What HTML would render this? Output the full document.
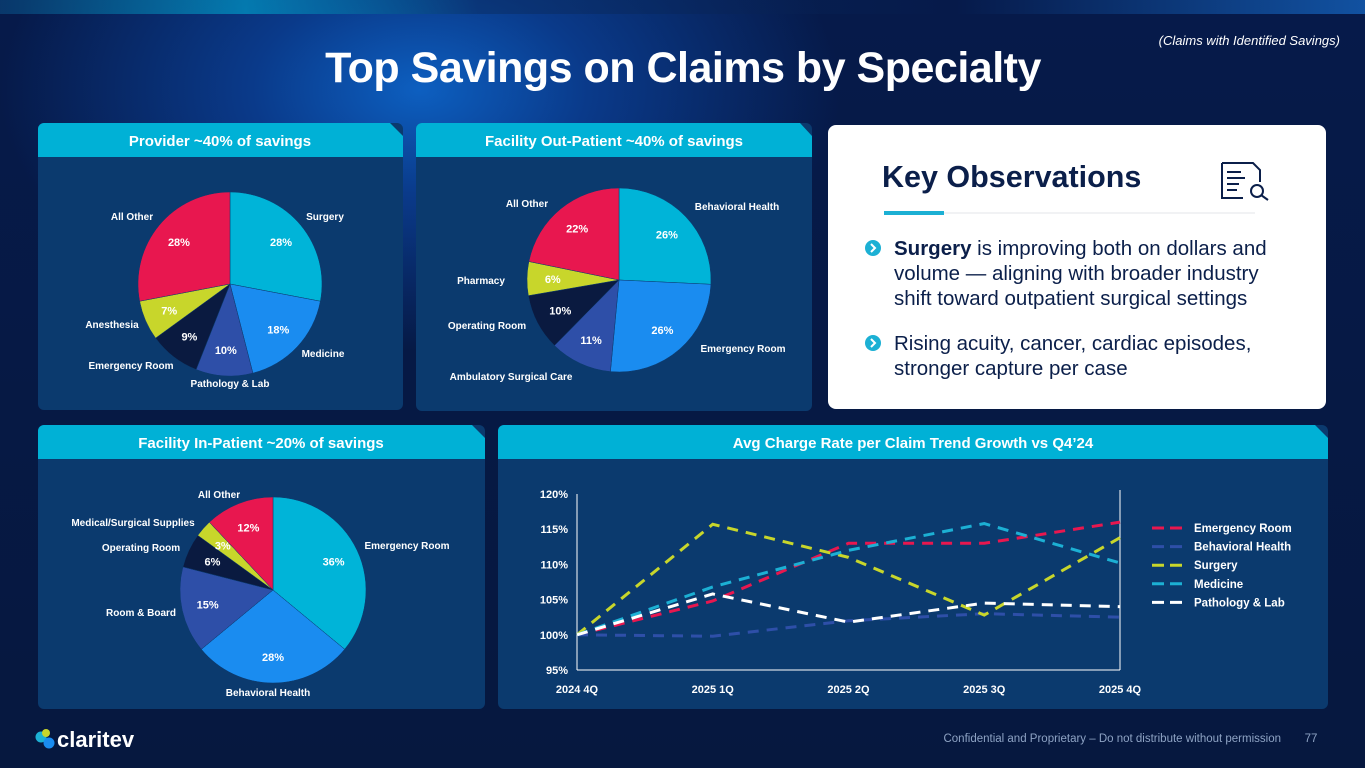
<!DOCTYPE html>
<html><head><meta charset="utf-8">
<style>
html,body{margin:0;padding:0}
body{width:1365px;height:768px;overflow:hidden;position:relative;font-family:"Liberation Sans",sans-serif;
background:radial-gradient(ellipse 420px 260px at 420px 90px,#0d5fc0 0%,#0a3a8a 40%,rgba(6,26,74,0) 100%),linear-gradient(180deg,#061a4a 0%,#06183f 100%);}
svg{position:absolute;left:0;top:0}
</style></head>
<body>
<svg id="s" width="1365" height="768" xmlns="http://www.w3.org/2000/svg">
<defs>
<linearGradient id="topg" x1="0" x2="1"><stop offset="0" stop-color="#0b4f86"/><stop offset="0.18" stop-color="#00b3d8"/><stop offset="0.35" stop-color="#0a2f66"/><stop offset="0.7" stop-color="#061a4a"/><stop offset="1" stop-color="#1b7fe8"/></linearGradient>
</defs>
<rect x="0" y="0" width="1365" height="14" fill="url(#topg)" opacity="0.55"/>
<text x="1340" y="45" text-anchor="end" font-size="13" font-style="italic" fill="#ffffff">(Claims with Identified Savings)</text>
<text x="683" y="82" text-anchor="middle" font-size="43" font-weight="bold" fill="#ffffff" letter-spacing="-0.5">Top Savings on Claims by Specialty</text>

<g>
<rect x="38" y="123" width="365" height="287" rx="6" fill="#0b3a6e"/>
<path d="M38,157 V129 a6,6 0 0 1 6,-6 H390 l13,13 V157 Z" fill="#00b1d6"/>
<text x="220" y="146" text-anchor="middle" font-size="15" font-weight="bold" fill="#fff">Provider ~40% of savings</text>
</g>
<g>
<rect x="416" y="123" width="396" height="288" rx="6" fill="#0b3a6e"/>
<path d="M416,157 V129 a6,6 0 0 1 6,-6 H800 l12,13 V157 Z" fill="#00b1d6"/>
<text x="614" y="146" text-anchor="middle" font-size="15" font-weight="bold" fill="#fff">Facility Out-Patient ~40% of savings</text>
</g>
<g>
<rect x="38" y="425" width="447" height="284" rx="6" fill="#0b3a6e"/>
<path d="M38,459 V431 a6,6 0 0 1 6,-6 H472 l13,13 V459 Z" fill="#00b1d6"/>
<text x="261" y="448" text-anchor="middle" font-size="15" font-weight="bold" fill="#fff">Facility In-Patient ~20% of savings</text>
</g>
<g>
<rect x="498" y="425" width="830" height="284" rx="6" fill="#0b3a6e"/>
<path d="M498,459 V431 a6,6 0 0 1 6,-6 H1315 l13,13 V459 Z" fill="#00b1d6"/>
<text x="913" y="448" text-anchor="middle" font-size="15" font-weight="bold" fill="#fff">Avg Charge Rate per Claim Trend Growth vs Q4’24</text>
</g>

<g>
<rect x="828" y="125" width="498" height="284" rx="8" fill="#ffffff"/>
<text x="882" y="187" font-size="30.5" font-weight="bold" fill="#0b1f4a">Key Observations</text>
<line x1="884" y1="213" x2="1255" y2="213" stroke="#e3e6ea" stroke-width="1"/>
<rect x="884" y="211" width="60" height="4" fill="#1cb0d4"/>
<g fill="none" stroke="#0b1f4a" stroke-width="2">
<path d="M1222,163 H1253 L1260,170 V182 M1222,163 V198 H1243"/>
<path d="M1227,172h14 M1227,178h18 M1227,184h12 M1227,190h10"/>
<circle cx="1257" cy="191" r="6"/><path d="M1261,195 L1268,200"/>
</g>
<circle cx="873" cy="248" r="8" fill="#1cb0d4"/><path d="M871,244 l4,4 l-4,4" stroke="#fff" stroke-width="2" fill="none"/>
<circle cx="873" cy="343" r="8" fill="#1cb0d4"/><path d="M871,339 l4,4 l-4,4" stroke="#fff" stroke-width="2" fill="none"/>
<g font-size="20.5" fill="#0b1f4a">
<text x="894" y="255"><tspan font-weight="bold">Surgery</tspan> is improving both on dollars and</text>
<text x="894" y="280">volume — aligning with broader industry</text>
<text x="894" y="305">shift toward outpatient surgical settings</text>
<text x="894" y="350">Rising acuity, cancer, cardiac episodes,</text>
<text x="894" y="375">stronger capture per case</text>
</g>
</g>

<g id="pies"></g>
<g id="chart"></g>

<g>
<circle cx="41" cy="737" r="5.5" fill="#1cb0d4"/><circle cx="49" cy="743" r="5.5" fill="#1a8cf0"/><circle cx="46" cy="733" r="4" fill="#c8d62b"/>
<text x="57" y="747" font-size="22" fill="#ffffff" font-weight="bold">claritev</text>
</g>
<text x="1281" y="742" text-anchor="end" font-size="11.5" fill="#8ea3c4">Confidential and Proprietary – Do not distribute without permission</text>
<text x="1311" y="742" text-anchor="middle" font-size="11.5" fill="#8ea3c4">77</text>
</svg>
<script>
const NS="http://www.w3.org/2000/svg";
const COLORS=["#00b4d8","#1a8cf0","#2e4fa8","#0a1a40","#c8d62b","#e8174f"];
const providerCats=["Surgery","Medicine","Pathology & Lab","Emergency Room","Anesthesia","All Other"];
const providerVals=[28,18,10,9,7,28];
const outpatientCats=["Behavioral Health","Emergency Room","Ambulatory Surgical Care","Operating Room","Pharmacy","All Other"];
const outpatientVals=[26,26,11,10,6,22];
const inpatientCats=["Emergency Room","Behavioral Health","Room & Board","Operating Room","Medical/Surgical Supplies","All Other"];
const inpatientVals=[36,28,15,6,3,12];
const quarters=["2024 4Q","2025 1Q","2025 2Q","2025 3Q","2025 4Q"];
const yTicks=[95,100,105,110,115,120];
const seriesNames=["Emergency Room","Behavioral Health","Surgery","Medicine","Pathology & Lab"];
const erVals=[100,104.8,113,113,116];
const bhVals=[100,99.8,102,103,102.5];
const surgeryVals=[100,115.7,111,102.8,113.8];
const medicineVals=[100,106.8,112,115.8,110.2];
const pathVals=[100,105.8,101.8,104.5,104];
const seriesColors=["#e8174f","#2e4fa8","#c8d62b","#1cb0d4","#ffffff"];

function mk(tag,attrs,parent){const e=document.createElementNS(NS,tag);for(const k in attrs)e.setAttribute(k,attrs[k]);parent.appendChild(e);return e;}

function pie(cx,cy,r,vals,cats,name,labels){
  const g=mk("g",{},document.getElementById("pies"));
  
  
  const tot=vals.reduce((a,b)=>a+b,0);let a0=-Math.PI/2;
  vals.forEach((v,i)=>{
    const a1=a0+v/tot*2*Math.PI;
    const x0=cx+r*Math.cos(a0),y0=cy+r*Math.sin(a0),x1=cx+r*Math.cos(a1),y1=cy+r*Math.sin(a1);
    const p=mk("path",{d:`M${cx},${cy} L${x0},${y0} A${r},${r} 0 ${a1-a0>Math.PI?1:0} 1 ${x1},${y1} Z`,fill:COLORS[i],stroke:"#0b3a6e","stroke-width":0.5},g);
    
    
    const am=(a0+a1)/2, rr=r*0.72;
    const t=mk("text",{x:cx+rr*Math.cos(am),y:cy+rr*Math.sin(am)+4,"text-anchor":"middle","font-size":11,"font-weight":"bold",fill:"#fff"},g);
    t.textContent=v+"%";
    
    
    const L=labels[i];
    const lt=mk("text",{x:L[0],y:L[1],"text-anchor":L[2]||"middle","font-size":10,"font-weight":"bold",fill:"#fff"},g);
    lt.textContent=cats[i];
    
    
    a0=a1;
  });
}
pie(230,284,92,providerVals,providerCats,"provider-pie",[[325,220],[323,357],[230,387],[131,369],[112,328],[132,220]]);
pie(619,280,92,outpatientVals,outpatientCats,"outpatient-pie",[[737,210],[743,352],[511,380],[487,329],[481,284],[527,207]]);
pie(273,590,93,inpatientVals,inpatientCats,"inpatient-pie",[[407,549],[268,696],[141,616],[141,551],[133,526],[219,498]]);

const cg=document.getElementById("chart");
const X0=577,X1=1120,Y0=670,Y1=494;
const xs=i=>X0+i*(X1-X0)/(quarters.length-1);
const ys=v=>Y0-(v-yTicks[0])/(yTicks[yTicks.length-1]-yTicks[0])*(Y0-Y1);
mk("line",{x1:X0,y1:Y1,x2:X0,y2:Y0,stroke:"#ffffff","stroke-width":1},cg);
mk("line",{x1:X0,y1:Y0,x2:X1,y2:Y0,stroke:"#ffffff","stroke-width":1},cg);
mk("line",{x1:X1,y1:Y1-4,x2:X1,y2:Y0,stroke:"#ffffff","stroke-width":1},cg);
yTicks.forEach(v=>{const t=mk("text",{x:X0-9,y:ys(v)+4,"text-anchor":"end","font-size":11,"font-weight":"bold",fill:"#fff"},cg);t.textContent=v+"%";

});
quarters.forEach((q,i)=>{const t=mk("text",{x:xs(i),y:693,"text-anchor":"middle","font-size":11,"font-weight":"bold",fill:"#fff"},cg);t.textContent=q;

});
const allSeries=[erVals,bhVals,surgeryVals,medicineVals,pathVals];
allSeries.forEach((vals,k)=>{
  const p=mk("polyline",{points:vals.map((v,i)=>xs(i)+","+ys(v)).join(" "),fill:"none",stroke:seriesColors[k],"stroke-width":3,"stroke-dasharray":"11,8"},cg);
  
  
  const ly=528+k*18.6;
  const lg=mk("g",{},cg);
  
  
  mk("line",{x1:1152,y1:ly,x2:1186,y2:ly,stroke:seriesColors[k],"stroke-width":3,"stroke-dasharray":"12,6"},lg);
  const t=mk("text",{x:1194,y:ly+4,"font-size":11.5,"font-weight":"bold",fill:"#fff"},lg);t.textContent=seriesNames[k];
});
</script>
</body></html>
